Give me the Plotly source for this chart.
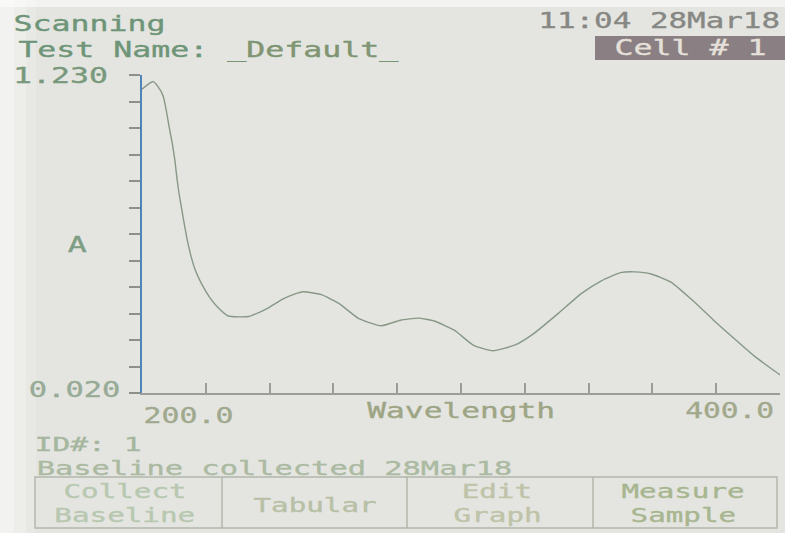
import json
import plotly.graph_objects as go
import numpy as np

# Absorbance scan, 200-400 nm
wavelength = [200.0, 203.5, 205.7, 206.7, 207.6, 208.5, 209.4, 210.3, 210.9, 211.6,
              212.5, 213.4, 214.3, 215.4, 216.7, 218.6, 221.1, 223.6, 227.0, 233.5,
              236.8, 239.9, 244.1, 247.8, 250.4, 256.0, 261.7, 268.0, 275.0, 281.0,
              286.6, 291.6, 298.0, 304.0, 310.0, 317.0, 323.0, 330.6, 337.8, 344.0,
              350.0, 354.5, 359.6, 365.8, 373.0, 379.0, 385.0, 391.5, 397.0, 400.0]
absorbance = [1.176, 1.205, 1.173, 1.147, 1.096, 1.033, 0.976, 0.906, 0.843, 0.780,
              0.716, 0.653, 0.596, 0.539, 0.488, 0.437, 0.386, 0.348, 0.313, 0.311,
              0.327, 0.346, 0.377, 0.396, 0.405, 0.395, 0.361, 0.303, 0.276, 0.297,
              0.305, 0.294, 0.258, 0.201, 0.181, 0.203, 0.248, 0.324, 0.399, 0.447,
              0.478, 0.481, 0.473, 0.442, 0.368, 0.299, 0.234, 0.165, 0.115, 0.089]

y_min, y_max = 0.020, 1.230
x_min, x_max = 200.0, 400.0
y_labels = ["1.230", "0.020"]
x_labels = ["200.0", "400.0"]
x_title = "Wavelength"
y_title = "A"
buttons = [("Collect", "Baseline"), ("Tabular", ""), ("Edit", "Graph"), ("Measure", "Sample")]

W, H = 785, 533
L, R, T, B = 142, 780, 75, 393   # plot area in pixels

BG = "#e4e5e1"
FONT = "DejaVu Sans Mono"
ADVANCE = 0.602                  # glyph advance of the mono font, in em


def px(x):
    return (x - L) / (R - L)


def py(y):
    return (B - y) / (B - T)


fig = go.Figure()
fig.add_trace(go.Scatter(
    x=wavelength, y=absorbance, mode="lines",
    line=dict(color="#879887", width=1.4, shape="spline", smoothing=0.5),
    hoverinfo="skip", showlegend=False,
))

annotations = []
stretch = []   # horizontal glyph stretch for each annotation, same order


def lcd(text, cx, cy, color, size=21, pitch=19.0):
    annotations.append(dict(
        text=text, x=px(cx), y=py(cy), xref="paper", yref="paper",
        xanchor="center", yanchor="middle", showarrow=False, borderpad=0,
        font=dict(family=FONT, size=size, color=color),
    ))
    stretch.append(pitch / (ADVANCE * size))


lcd("Scanning", 89, 24, "#6e9577")
lcd("Test Name: <span style='color:#87946f'>_Default_</span>", 208, 50, "#6e9577")
lcd(y_labels[0], 60, 75.5, "#78997c")
lcd(y_labels[1], 74, 390, "#97ab96", pitch=18.3)
lcd(y_title, 77, 245, "#7e9e84")
lcd("11:04 28Mar18", 659, 20.5, "#878884", pitch=18.6)
lcd("Cell # 1", 690, 48, "#e6e0da")
lcd(x_labels[0], 188, 416, "#a0a98e", pitch=18.0)
lcd(x_title, 461, 411, "#9ea585", pitch=18.8)
lcd(x_labels[1], 729, 411, "#a2a88b", pitch=17.8)
lcd("ID#: 1", 88, 444, "#a4b69d", size=20, pitch=17.8)
lcd("Baseline collected 28Mar18", 274, 468, "#abbaa1", size=20, pitch=18.3)

btn_colors = ["#b8c8b0", "#b8c0a6", "#bfc3a8", "#a8b690"]
btn_centers = [125, 315, 497, 683]
for (top, bottom), cx, col in zip(buttons, btn_centers, btn_colors):
    if bottom:
        lcd(top, cx, 491, col, size=19, pitch=17.6)
        lcd(bottom, cx, 515, col, size=19, pitch=17.6)
    else:
        lcd(top, cx, 505, col, size=19, pitch=17.6)

shapes = [
    # photo glare along the left edge, fading inwards
    dict(type="rect", xref="paper", yref="paper", x0=px(0), x1=px(14), y0=py(H), y1=py(0),
         fillcolor="rgba(255,255,255,0.30)", line=dict(width=0), layer="below"),
    dict(type="rect", xref="paper", yref="paper", x0=px(0), x1=px(26), y0=py(H), y1=py(0),
         fillcolor="rgba(255,255,255,0.22)", line=dict(width=0), layer="below"),
    dict(type="rect", xref="paper", yref="paper", x0=px(0), x1=px(36), y0=py(H), y1=py(0),
         fillcolor="rgba(255,255,255,0.15)", line=dict(width=0), layer="below"),
    dict(type="rect", xref="paper", yref="paper", x0=px(0), x1=px(W), y0=py(7), y1=py(0),
         fillcolor="rgba(255,255,255,0.55)", line=dict(width=0), layer="below"),
    # highlighted cell indicator
    dict(type="rect", xref="paper", yref="paper", x0=px(595), x1=px(786), y0=py(60), y1=py(36),
         fillcolor="#8a8083", line=dict(width=0), layer="below"),
    # soft-key box
    dict(type="rect", xref="paper", yref="paper", x0=px(35), x1=px(777), y0=py(528), y1=py(477),
         fillcolor="rgba(0,0,0,0)", line=dict(color="#b2b6aa", width=1.5)),
]
for xd in [222, 407, 593]:
    shapes.append(dict(type="line", xref="paper", yref="paper", x0=px(xd), x1=px(xd),
                       y0=py(528), y1=py(477), line=dict(color="#b2b6aa", width=1.5)))

fig.update_layout(
    width=W, height=H,
    margin=dict(l=L, r=W - R, t=T, b=H - B),
    paper_bgcolor=BG, plot_bgcolor=BG,
    showlegend=False,
    annotations=annotations,
    shapes=shapes,
    xaxis=dict(range=[x_min, x_max], showgrid=False, zeroline=False,
               showline=True, linecolor="#9c9d99", linewidth=1.5,
               ticks="inside", ticklen=10, tickwidth=1.5, tickcolor="#9c9d99",
               tick0=200, dtick=20, showticklabels=False, fixedrange=True),
    yaxis=dict(range=[y_min, y_max], showgrid=False, zeroline=False,
               showline=True, linecolor="#4f84b8", linewidth=2,
               ticks="outside", ticklen=11, tickwidth=1.5, tickcolor="#8e908c",
               tickvals=list(np.linspace(y_min, y_max, 13)),
               showticklabels=False, fixedrange=True),
)

# Widen the glyphs around their centres to mimic the wide LCD character cells
widen = """
var gd = document.getElementById('{plot_id}');
var sc = %s;
gd.querySelectorAll('g.annotation').forEach(function(g){
  var i = +g.getAttribute('data-index');
  var t = g.querySelector('text.annotation-text');
  if (!t) return;
  var s = sc[i] || 1.5;
  var b = t.getBBox();
  var cx = b.x + b.width / 2;
  var prev = t.getAttribute('transform') || '';
  t.setAttribute('transform', prev + ' translate(' + cx + ',0) scale(' + s + ',1) translate(' + (-cx) + ',0)');
  t.style.strokeWidth = '0.35px';
  t.style.stroke = t.style.fill;
});
""" % json.dumps([round(s, 3) for s in stretch])

fig.write_html("out.html", post_script=widen, config={"displayModeBar": False})
